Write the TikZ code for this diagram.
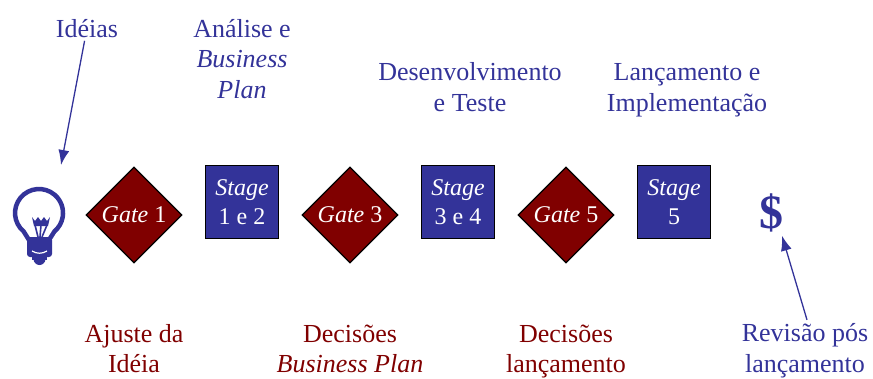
\documentclass[tikz,border=0pt]{standalone}
\usepackage{fontspec}
\setmainfont{Liberation Serif}
\usepackage{tikz}
\usetikzlibrary{shapes,arrows.meta,calc}
\definecolor{azul}{RGB}{51,51,153}
\definecolor{vinho}{RGB}{128,0,0}

\begin{document}
\begin{tikzpicture}[x=1pt,y=-1pt]
\tikzset{
	gate node/.style = {diamond, draw, line width = 1.2pt, fill = vinho, text = white, minimum width = 96pt, minimum height = 96pt, inner sep = 0, font = \fontsize{24}{26}\selectfont},
	stage node/.style = {rectangle, draw, line width = 1.5pt, fill = azul, text = white, minimum size = 73pt, inner sep = 0, align = center, font = \fontsize{24}{29}\selectfont},
	blue text/.style = {text = azul, align = center, anchor = base, font = \fontsize{26}{30.5}\selectfont},
	red text/.style = {text = vinho, align = center, anchor = base, font = \fontsize{26}{30}\selectfont},
	seta/.style = {azul, line width = 1.3pt, -{Latex[length=15pt,width=11pt]}},
}
\useasboundingbox (0,0) rectangle (873,378);
% etapas
\node(g1)[gate node]at(134,215){\textit{Gate} 1};
\node(s12)[stage node]at(242,202){\textit{Stage}\\1 e 2};
\node(g3)[gate node]at(350,215){\textit{Gate} 3};
\node(s34)[stage node]at(458,202){\textit{Stage}\\3 e 4};
\node(g5)[gate node]at(566,215){\textit{Gate} 5};
\node(s5)[stage node]at(674,202){\textit{Stage}\\5};
\node(dollar)[text = azul, font = \fontsize{48}{48}\selectfont\bfseries]at(771,213){\$};
% textos de cima (base = ultima linha)
\node(ideias)[blue text]at(87,37){Idéias};
\node(analise)[blue text]at(242,98){Análise e\\\textit{Business}\\\textit{Plan}};
\node(desenv)[blue text]at(470,111){Desenvolvimento\\e Teste};
\node(lanc)[blue text]at(687,111){Lançamento e\\Implementação};
% textos de baixo
\node(ajuste)[red text]at(134,372){Ajuste da\\Idéia};
\node(decbp)[red text]at(350,372){Decisões\\\textit{Business Plan}};
\node(declanc)[red text]at(566,372){Decisões\\lançamento};
\node(revisao)[blue text]at(805,372){Revisão pós\\lançamento};
% lampada
\begin{scope}[azul]
\draw[line width = 4.5pt, line join = round](29,240)--(23.6,231.4) arc[start angle = 230, end angle = -50, radius = 24pt]--(49,240);
\fill(32,217)--(35,221)--(38,217)--(41,221)--(44,217)--(47,221)--(50,217)--(48,226)--(34,226)--cycle;
\draw[line width = 1.6pt](35,225)--(38,237)(47,225)--(42,237)(41,225)--(40,237);
\fill[rounded corners = 3pt](27,237)rectangle(52,257);
\fill(32,255)rectangle(47,260);
\fill(39.5,259)circle[radius = 6pt];
\draw[white, line width = 1.2pt](32,251) .. controls (37,254) and (42,254) .. (47,251);
\end{scope}
\coordinate(bulb) at (61,165);
% setas
\draw[seta](ideias)--(bulb);
\draw[seta]([xshift=2pt]revisao.north)--([xshift=11pt]dollar.south);
\end{tikzpicture}
\end{document}
